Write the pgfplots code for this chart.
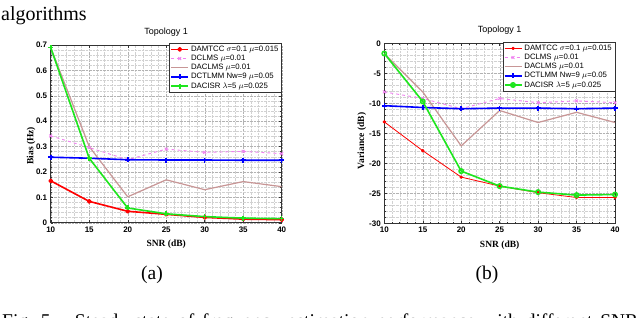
\documentclass[border=0pt]{standalone}
\usepackage{fontspec}
\setmainfont{Liberation Serif}
\setsansfont{Liberation Sans}
\usepackage{pgfplots}
\pgfplotsset{compat=1.18}
\definecolor{mred}{RGB}{255,0,0}
\definecolor{mviolet}{RGB}{240,130,240}
\definecolor{mrosy}{RGB}{200,150,150}
\definecolor{mblue}{RGB}{0,0,255}
\definecolor{mgreen}{RGB}{30,230,30}
\pgfplotsset{
  mystyle/.style={
    scale only axis,
    xmin=10, xmax=40, xtick={10,15,...,40},
    minor x tick num=4, minor y tick num=4,
    grid=both,
    major grid style={black!30, densely dotted, line width=0.3pt},
    minor grid style={black!18, densely dotted, line width=0.3pt},
    tick align=inside,
    tick style={black!80, line width=0.4pt},
    major tick length=2.5pt, minor tick length=1.2pt,
    axis line style={black!80, line width=0.5pt},
    ticklabel style={font=\sffamily\bfseries\fontsize{8}{9}\selectfont},
    /pgf/number format/assume math mode=true,
    xticklabel style={yshift=-0.5pt},
    label style={font=\bfseries\fontsize{9.5}{11}\selectfont},
    title style={font=\sffamily\fontsize{9}{10}\selectfont, at={(axis description cs:0.5,1)}, anchor=base, yshift=4.5pt},
    xlabel style={at={(axis description cs:0.5,0)}, anchor=base, yshift=-24pt},
    legend style={font=\sffamily\fontsize{7.8}{9}\selectfont, draw=black!80, line width=0.4pt, inner sep=1pt, row sep=-1.8pt, legend cell align=left, fill=white},
    legend cell align=left,
    every axis plot/.append style={line join=round},
  }
}
\begin{document}
\begin{tikzpicture}
\useasboundingbox (0,0) rectangle (640pt,317pt);
\clip (0,0) rectangle (640pt,317pt);
\fill[white] (0,0) rectangle (640pt,317pt);

\begin{axis}[mystyle,
  at={(50.7pt,94.3pt)}, anchor=south west,
  width=231pt, height=177.7pt,
  ymin=0, ymax=0.7, ytick={0,0.1,...,0.7},
  yticklabel style={/pgf/number format/fixed},
  title={Topology 1},
  xlabel={SNR (dB)}, ylabel={Bias (Hz)},
  ylabel style={at={(axis description cs:-0.085,0.433)}, anchor=center},
  legend style={at={(axis description cs:1,1.013)}, anchor=north east},
]
\addplot[mred, line width=1.6pt, mark=*, mark size=1.6pt] coordinates {(10,0.165)(15,0.084)(20,0.045)(25,0.033)(30,0.021)(35,0.014)(40,0.012)};
\addlegendentry{DAMTCC $\sigma$=0.1 $\mu$=0.015}
\addplot[mviolet, line width=0.9pt, dashed, mark=x, mark size=2pt, mark options={solid}] coordinates {(10,0.342)(15,0.296)(20,0.248)(25,0.290)(30,0.277)(35,0.281)(40,0.272)};
\addlegendentry{DCLMS $\mu$=0.01}
\addplot[mrosy, line width=1.2pt] coordinates {(10,0.69)(15,0.300)(20,0.102)(25,0.169)(30,0.130)(35,0.162)(40,0.142)};
\addlegendentry{DACLMS $\mu$=0.01}
\addplot[mblue, line width=1.6pt, mark=+, mark size=2.5pt] coordinates {(10,0.258)(15,0.254)(20,0.248)(25,0.247)(30,0.247)(35,0.246)(40,0.246)};
\addlegendentry{DCTLMM Nw=9 $\mu$=0.05}
\addplot[mgreen, line width=1.6pt, mark=+, mark size=2.5pt] coordinates {(10,0.69)(15,0.254)(20,0.058)(25,0.035)(30,0.024)(35,0.018)(40,0.016)};
\addlegendentry{DACISR $\lambda$=5 $\mu$=0.025}
\end{axis}

\begin{axis}[mystyle,
  at={(384.3pt,93.7pt)}, anchor=south west,
  width=230.7pt, height=180pt,
  ymin=-30, ymax=0, ytick={-30,-25,...,0},
  title={Topology 1},
  xlabel={SNR (dB)}, ylabel={Variance (dB)},
  ylabel style={at={(axis description cs:-0.097,0.458)}, anchor=center},
  legend style={at={(axis description cs:1,1.009)}, anchor=north east},
]
\addplot[mred, line width=0.8pt, mark=*, mark size=1.3pt] coordinates {(10,-13.1)(15,-17.9)(20,-22.3)(25,-23.8)(30,-24.9)(35,-25.7)(40,-25.7)};
\addlegendentry{DAMTCC $\sigma$=0.1 $\mu$=0.015}
\addplot[mviolet, line width=0.9pt, dashed, mark=x, mark size=2pt, mark options={solid}] coordinates {(10,-8.1)(15,-9.2)(20,-10.9)(25,-9.2)(30,-9.9)(35,-9.6)(40,-9.9)};
\addlegendentry{DCLMS $\mu$=0.01}
\addplot[mrosy, line width=1.2pt] coordinates {(10,-1.7)(15,-8.1)(20,-17.1)(25,-11.2)(30,-13.2)(35,-11.5)(40,-13.2)};
\addlegendentry{DACLMS $\mu$=0.01}
\addplot[mblue, line width=1.6pt, mark=+, mark size=2.5pt] coordinates {(10,-10.4)(15,-10.7)(20,-10.9)(25,-10.8)(30,-10.8)(35,-10.9)(40,-10.8)};
\addlegendentry{DCTLMM Nw=9 $\mu$=0.05}
\addplot[mgreen, line width=1.6pt, mark=o, mark size=2.2pt] coordinates {(10,-1.7)(15,-9.7)(20,-21.3)(25,-23.8)(30,-24.8)(35,-25.3)(40,-25.2)};
\addlegendentry{DACISR $\lambda$=5 $\mu$=0.025}
\end{axis}

\node[anchor=base west, inner sep=0pt, font=\fontsize{20}{22}\selectfont] at (1pt,296.5pt) {algorithms};
\node[anchor=base, inner sep=0pt, font=\fontsize{19.5}{22}\selectfont] at (152pt,38pt) {(a)};
\node[anchor=base, inner sep=0pt, font=\fontsize{19.5}{22}\selectfont] at (487pt,38pt) {(b)};
\node[anchor=base west, inner sep=0pt, font=\fontsize{19.5}{22}\selectfont] at (2pt,-10.5pt) {\makebox[636pt][s]{Fig.~5.\quad Steady-state of frequency estimation performance with different SNR}};
\end{tikzpicture}
\end{document}
